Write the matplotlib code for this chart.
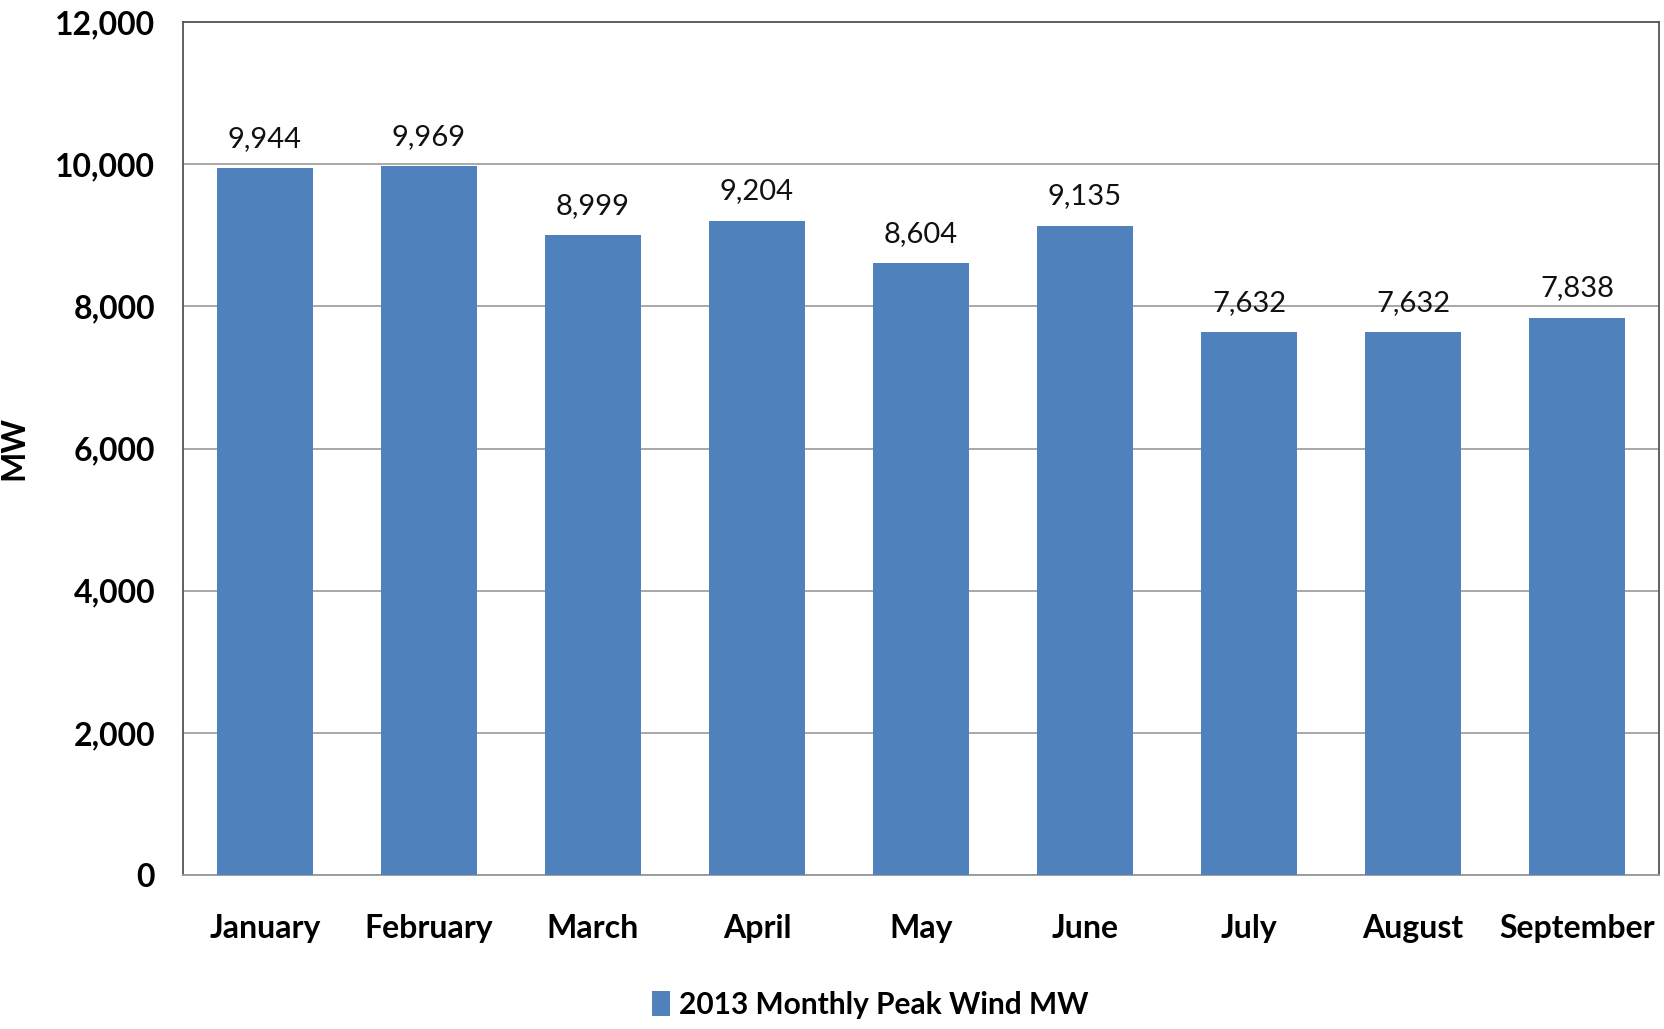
import numpy as np
import matplotlib
matplotlib.use("Agg")
import matplotlib.pyplot as plt
from matplotlib.ticker import FuncFormatter

months = ["January", "February", "March", "April", "May", "June",
          "July", "August", "September"]
peak_mw = [9944, 9969, 8999, 9204, 8604, 9135, 7632, 7632, 7838]
series_name = "2013 Monthly Peak Wind MW"

plt.rcParams['font.family'] = ['Lato', 'DejaVu Sans']

bar_color = "#4F81BD"

fig = plt.figure(figsize=(16.65, 10.29), dpi=100)
ax = fig.add_axes([183 / 1665, 1 - 875 / 1029, (1659 - 183) / 1665, (875 - 22) / 1029])

x = np.arange(len(months))
bars = ax.bar(x, peak_mw, width=0.58, color=bar_color, label=series_name, zorder=3)

for xi, v in zip(x, peak_mw):
    ax.text(xi, v + 230, f"{v:,}", ha='center', va='bottom', fontsize=21, color='#111111')

ax.set_xlim(-0.5, len(months) - 0.5)
ax.set_ylim(0, 12000)
ax.set_yticks(np.arange(0, 12001, 2000))
ax.yaxis.set_major_formatter(FuncFormatter(lambda v, p: f"{int(v):,}"))
ax.set_xticks(x)
ax.set_xticklabels(months)
ax.tick_params(axis='both', length=0, labelsize=23)
ax.tick_params(axis='x', pad=28)
ax.tick_params(axis='y', pad=20)
for lab in ax.get_xticklabels() + ax.get_yticklabels():
    lab.set_fontweight('bold')

ax.grid(axis='y', color='#999999', linewidth=1.2, zorder=0)
for s in ax.spines.values():
    s.set_color('#555555')
    s.set_linewidth(1.3)
ax.spines['bottom'].set_color('#999999')

ax.set_ylabel("MW", fontsize=23, fontweight='bold')
ax.yaxis.set_label_coords(-0.105, 0.5)

fig.legend(handles=[bars], labels=[series_name], loc='center',
           bbox_to_anchor=(0.5225, 1 - 1005 / 1029), frameon=False,
           prop={'weight': 'bold', 'size': 21.5},
           handlelength=0.6, handleheight=0.9, handletextpad=0.3)

fig.savefig("out.png", dpi=100)
